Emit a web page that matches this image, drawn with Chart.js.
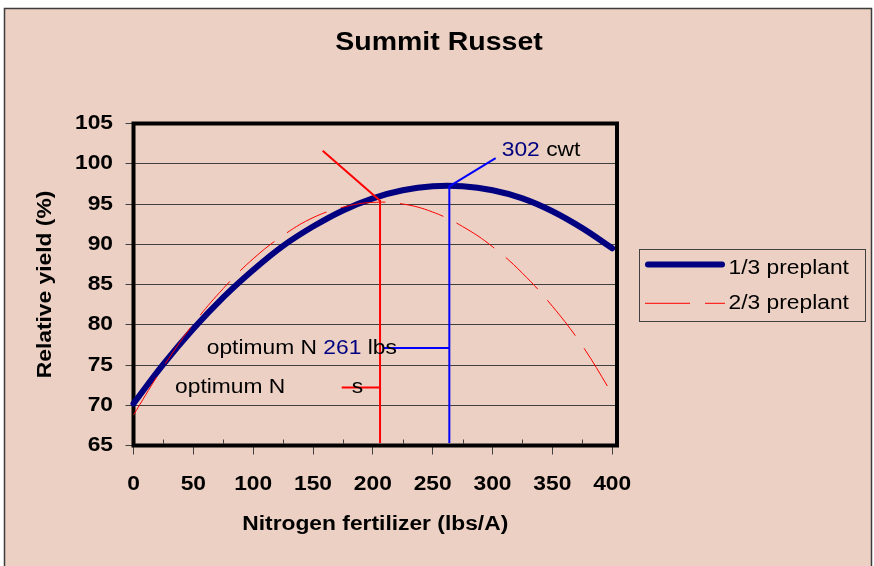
<!DOCTYPE html>
<html>
<head>
<meta charset="utf-8">
<title>Summit Russet</title>
<script src="https://cdn.jsdelivr.net/npm/chart.js@4.4.1/dist/chart.umd.min.js"></script>
<style>
  html, body { margin: 0; padding: 0; background: #fff; }
  #wrap { position: relative; width: 874px; height: 566px; }
</style>
</head>
<body>
<div id="wrap"><canvas id="yieldChart" width="874" height="566"></canvas></div>
<script>
// Data
const nitrogenRates = [0, 25, 50, 75, 100, 125, 150, 175, 200, 225, 250, 275, 300, 325, 350, 375, 400];
const yieldOneThird = [70.2, 75.1, 79.5, 83.4, 86.8, 89.8, 92.2, 94.2, 95.7, 96.7, 97.2, 97.2, 96.7, 95.7, 94.1, 92.0, 89.5];
const yieldTwoThirds = [68.8, 74.8, 80.1, 84.5, 88.2, 91.1, 93.3, 94.6, 95.2, 95.0, 94.0, 92.2, 89.7, 86.4, 82.3, 77.4, 71.4];
const seriesLabels = ["1/3 preplant", "2/3 preplant"];

const xTickValues = [0, 50, 100, 150, 200, 250, 300, 350, 400];
const xMinorTicks = [25, 75, 125, 175, 225, 275, 325, 375];
const yTickValues = [65, 70, 75, 80, 85, 90, 95, 100, 105];

// optimum guide lines (data units)
const redGuideX = [158.1, 206, 206];
const redGuideY = [101.6, 95.4, 65.3];
const redStubX = [174, 206];
const redStubY = [72.2, 72.2];
const blueGuideX = [302.6, 263.9, 263.9];
const blueGuideY = [100.7, 97.2, 65.3];
const blueStubX = [208.7, 263.9];
const blueStubY = [77.1, 77.1];

const FONT = "'Liberation Sans', Arial, Helvetica, sans-serif";
const PEACH = "#ecd0c3";
const NAVY = "#000080";
// the original lettering is a bit wider than plain Arial
const TEXT_STRETCH = 1.14;

function toPoints(xs, ys) {
  return xs.map((x, i) => ({ x: x, y: ys[i] }));
}

function stretchText(ctx) {
  if (ctx._stretched) return;
  const fill = ctx.fillText.bind(ctx);
  const measure = ctx.measureText.bind(ctx);
  ctx.fillText = function (text, x, y) {
    this.save();
    this.translate(x, y);
    this.scale(TEXT_STRETCH, 1);
    fill(text, 0, 0);
    this.restore();
  };
  ctx.measureText = function (text) {
    const m = measure(text);
    return {
      width: m.width * TEXT_STRETCH,
      actualBoundingBoxAscent: m.actualBoundingBoxAscent,
      actualBoundingBoxDescent: m.actualBoundingBoxDescent,
    };
  };
  ctx._stretched = true;
}

function drawRuns(ctx, runs, x, y) {
  ctx.textAlign = "left";
  ctx.textBaseline = "middle";
  runs.forEach((run) => {
    ctx.fillStyle = run.color;
    ctx.fillText(run.text, x, y);
    x += ctx.measureText(run.text).width;
  });
}

const chartDecor = {
  id: "chartDecor",
  beforeInit(chart) {
    stretchText(chart.ctx);
  },
  beforeDraw(chart) {
    const ctx = chart.ctx;
    stretchText(ctx);
    ctx.save();
    ctx.fillStyle = "#fff";
    ctx.fillRect(0, 0, chart.width, chart.height);
    ctx.fillStyle = PEACH;
    ctx.fillRect(4, 8, 868, chart.height);
    ctx.strokeStyle = "#3c3c3c";
    ctx.lineWidth = 1.5;
    ctx.strokeRect(4.5, 8.5, 867, chart.height + 10);

    ctx.font = "bold 25px " + FONT;
    ctx.fillStyle = "#000";
    ctx.textAlign = "center";
    ctx.textBaseline = "middle";
    ctx.fillText("Summit Russet", chart.width / 2 + 2, 43.5);
    ctx.restore();
  },
  beforeDatasetsDraw(chart) {
    const { ctx, chartArea } = chart;
    const xScale = chart.scales.x;
    ctx.save();
    ctx.strokeStyle = "#404040";
    ctx.lineWidth = 1;
    xMinorTicks.forEach((v) => {
      const px = Math.round(xScale.getPixelForValue(v)) + 0.5;
      ctx.beginPath();
      ctx.moveTo(px, chartArea.bottom - 2);
      ctx.lineTo(px, chartArea.bottom - 6);
      ctx.stroke();
    });
    ctx.strokeStyle = "#000";
    ctx.lineWidth = 4;
    ctx.strokeRect(chartArea.left, chartArea.top, chartArea.right - chartArea.left, chartArea.bottom - chartArea.top);
    ctx.restore();
  },
  afterDraw(chart) {
    const { ctx, chartArea } = chart;
    const xs = chart.scales.x;
    const ys = chart.scales.y;
    ctx.save();
    ctx.font = "20px " + FONT;

    drawRuns(ctx, [{ text: "302", color: NAVY }, { text: " cwt", color: "#000" }],
      xs.getPixelForValue(307.7), ys.getPixelForValue(101.7));
    drawRuns(ctx, [{ text: "optimum N ", color: "#000" }, { text: "261", color: NAVY }, { text: " lbs", color: "#000" }],
      xs.getPixelForValue(61.2), ys.getPixelForValue(77.1));
    drawRuns(ctx, [{ text: "optimum N", color: "#000" }],
      xs.getPixelForValue(34.7), ys.getPixelForValue(72.2));
    drawRuns(ctx, [{ text: "s", color: "#000" }],
      xs.getPixelForValue(182.3), ys.getPixelForValue(72.2));

    // legend box
    const boxLeft = chartArea.right + 22;
    const boxTop = 249;
    ctx.strokeStyle = "#404040";
    ctx.lineWidth = 1;
    ctx.strokeRect(Math.round(boxLeft) + 0.5, boxTop + 0.5, 226, 72);

    const lineY = [264.5, 303.3];
    const textY = [268, 303];
    chart.data.datasets.filter((ds) => ds.label).forEach((ds, i) => {
      const inset = ds.borderWidth > 2 ? 3 : 0;
      ctx.save();
      ctx.strokeStyle = ds.borderColor;
      ctx.lineWidth = ds.borderWidth;
      ctx.lineCap = ds.borderCapStyle || "butt";
      ctx.setLineDash(ds.borderDash || []);
      ctx.beginPath();
      ctx.moveTo(boxLeft + 6 + inset, lineY[i]);
      ctx.lineTo(boxLeft + 86 - inset, lineY[i]);
      ctx.stroke();
      ctx.restore();
      drawRuns(ctx, [{ text: ds.label, color: "#000" }], boxLeft + 89.5, textY[i]);
    });
    ctx.restore();
  },
};

const guideStyle = {
  borderWidth: 2,
  pointRadius: 0,
  tension: 0,
  fill: false,
  order: 1,
};

new Chart(document.getElementById("yieldChart"), {
  type: "line",
  data: {
    datasets: [
      {
        label: seriesLabels[0],
        data: toPoints(nitrogenRates, yieldOneThird),
        borderColor: NAVY,
        borderWidth: 6,
        borderCapStyle: "round",
        borderJoinStyle: "round",
        pointRadius: 0,
        tension: 0.4,
        fill: false,
        clip: false,
        order: 3,
      },
      {
        label: seriesLabels[1],
        data: toPoints(nitrogenRates, yieldTwoThirds),
        borderColor: "#ff0000",
        borderWidth: 1,
        borderDash: [45, 15],
        pointRadius: 0,
        tension: 0.4,
        fill: false,
        clip: false,
        order: 2,
      },
      Object.assign({ label: "", data: toPoints(redGuideX, redGuideY), borderColor: "#ff0000" }, guideStyle),
      Object.assign({ label: "", data: toPoints(redStubX, redStubY), borderColor: "#ff0000" }, guideStyle),
      Object.assign({ label: "", data: toPoints(blueGuideX, blueGuideY), borderColor: "#0000ff" }, guideStyle),
      Object.assign({ label: "", data: toPoints(blueStubX, blueStubY), borderColor: "#0000ff" }, guideStyle),
    ],
  },
  options: {
    responsive: false,
    animation: false,
    devicePixelRatio: 1,
    layout: { padding: { left: 4, top: 123.5, right: 257, bottom: 0 } },
    plugins: {
      legend: { display: false },
      tooltip: { enabled: false },
      title: { display: false },
    },
    scales: {
      x: {
        type: "linear",
        min: 0,
        max: 404,
        afterBuildTicks: (axis) => {
          axis.ticks = xTickValues.map((v) => ({ value: v }));
        },
        afterFit: (axis) => {
          axis.height = 120.5;
        },
        border: { display: false },
        grid: { drawOnChartArea: false, drawTicks: true, tickLength: 9, color: "#404040", lineWidth: 1 },
        ticks: {
          autoSkip: false,
          maxRotation: 0,
          padding: 17.5,
          color: "#000",
          font: { family: FONT, size: 20, weight: "bold" },
        },
        title: {
          display: true,
          text: "Nitrogen fertilizer (lbs/A)",
          color: "#000",
          font: { family: FONT, size: 20, weight: "bold" },
          padding: { top: 0, bottom: 29.5 },
        },
      },
      y: {
        min: 65,
        max: 105,
        afterBuildTicks: (axis) => {
          axis.ticks = yTickValues.map((v) => ({ value: v }));
        },
        afterFit: (axis) => {
          axis.width = 129.5;
        },
        border: { display: false },
        grid: { drawTicks: true, tickLength: 8, color: "#404040", lineWidth: 1 },
        ticks: {
          padding: 12.5,
          color: "#000",
          font: { family: FONT, size: 20, weight: "bold" },
        },
        title: {
          display: true,
          text: "Relative yield (%)",
          color: "#000",
          font: { family: FONT, size: 20, weight: "bold" },
          padding: { top: 29, bottom: 0 },
        },
      },
    },
  },
  plugins: [chartDecor],
});
</script>
</body>
</html>
